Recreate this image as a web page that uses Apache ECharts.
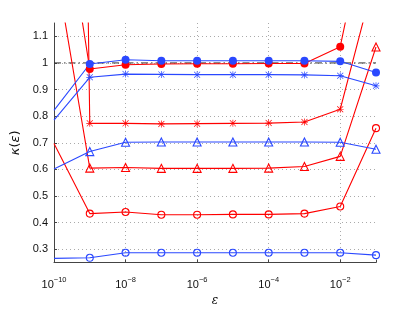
<!DOCTYPE html>
<html><head><meta charset="utf-8">
<script src="https://cdn.jsdelivr.net/npm/echarts@6/dist/echarts.min.js"></script>
<style>html,body{margin:0;padding:0;background:#fff}#c{width:415px;height:312px}</style>
</head><body><div id="c"></div>
<script>
const eps = [1e-10, 1e-9, 1e-8, 1e-7, 1e-6, 1e-5, 1e-4, 1e-3, 1e-2, 1e-1];
const redDot  = [1.83, 0.977, 0.993, 0.996, 0.997, 0.997, 0.998, 0.998, 1.061, 1.70];
const redStar = [10, 0.773, 0.773, 0.771, 0.772, 0.773, 0.774, 0.778, 0.826, 1.34];
const redTri  = [1.40, 0.605, 0.607, 0.604, 0.604, 0.604, 0.605, 0.611, 0.649, 1.06];
const redCirc = [0.697, 0.434, 0.440, 0.430, 0.430, 0.431, 0.431, 0.434, 0.461, 0.755];
const blueDot  = [0.822, 0.996, 1.012, 1.008, 1.008, 1.008, 1.008, 1.008, 1.006, 0.964];
const blueStar = [0.785, 0.946, 0.958, 0.957, 0.956, 0.956, 0.956, 0.955, 0.952, 0.914];
const blueTri  = [0.602, 0.667, 0.702, 0.703, 0.703, 0.703, 0.703, 0.703, 0.702, 0.676];
const blueCirc = [0.266, 0.268, 0.287, 0.287, 0.287, 0.287, 0.287, 0.287, 0.287, 0.278];
const refLine = [1, 1];
const xTicks = [1e-10, 1e-8, 1e-6, 1e-4, 1e-2];
const yTicks = [0.3, 0.4, 0.5, 0.6, 0.7, 0.8, 0.9, 1.0, 1.1];

const RED = '#ff0000', BLUE = '#2a48ff';
const STAR = 'path://M9 0L11 0L11 20L9 20Z M0 9L20 9L20 11L0 11Z M2.1 0.7L19.3 17.9L17.9 19.3L0.7 2.1Z M17.9 0.7L19.3 2.1L2.1 19.3L0.7 17.9Z';

function mk(vals, color, symbol, size, filled) {
  return {
    type: 'line', xAxisIndex: 0,
    data: vals.map((v, i) => i === 0 ? {value: [eps[i], v], symbol: 'none'} : {value: [eps[i], v]}),
    symbol: symbol, symbolSize: size, showAllSymbol: true,
    lineStyle: {color: color, width: 1.1},
    itemStyle: filled ? {color: color} : {color: 'rgba(0,0,0,0)', borderColor: color, borderWidth: 1.1},
    emphasis: {disabled: true}, animation: false, clip: true, z: 3
  };
}

const chart = echarts.init(document.getElementById('c'), null, {renderer: 'canvas'});
const font = 'Liberation Sans, Arial, sans-serif';
const GRID = '#aaa';
const lgMin = Math.log10(eps[0]), lgMax = Math.log10(eps[eps.length - 1]);
chart.setOption({
  animation: false,
  grid: {left: 54, right: 39, top: 23, bottom: 35, containLabel: false},
  xAxis: [{
    type: 'log', logBase: 10, min: eps[0], max: eps[eps.length - 1],
    axisLine: {show: true, onZero: false, lineStyle: {color: '#444', width: 1}},
    axisTick: {show: false},
    splitLine: {show: false},
    axisLabel: {
      customValues: xTicks, margin: 13, color: '#111', verticalAlign: 'top',
      formatter: v => '{b|10}{s|−' + Math.round(-Math.log10(v)) + '}',
      rich: {b: {fontSize: 11, fontFamily: font, color: '#111', lineHeight: 13, padding: [5, 0, 0, 0]},
             s: {fontSize: 7.5, fontFamily: font, color: '#111', lineHeight: 9, verticalAlign: 'top'}}
    },
    name: '{e|ε}', nameLocation: 'middle', nameGap: 29,
    nameTextStyle: {rich: {e: {fontSize: 12, fontStyle: 'italic', fontFamily: 'DejaVu Serif, serif', color: '#111'}}}
  }, {
    // scaffold axis in decades (log10 ε) for the grid lines and ticks every two decades
    type: 'value', position: 'bottom', min: lgMin, max: lgMax, interval: 2,
    axisLine: {show: false},
    axisTick: {show: true, inside: true, length: 3, lineStyle: {color: '#444'}},
    axisLabel: {show: false},
    splitLine: {show: true, showMinLine: true, showMaxLine: false, lineStyle: {color: GRID, type: [1, 3], width: 1}}
  }],
  yAxis: {
    type: 'value', min: 0.25, max: 1.15, splitNumber: 9,
    axisLine: {show: true, lineStyle: {color: '#444', width: 1}},
    axisTick: {show: true, inside: true, length: 3, customValues: yTicks, lineStyle: {color: '#444'}},
    splitLine: {show: true, lineStyle: {color: GRID, type: [1, 3], width: 1}},
    axisLabel: {customValues: yTicks, fontSize: 11, fontFamily: font, color: '#111', margin: 6,
      formatter: v => String(Math.round(v * 10) / 10)},
    name: '{i|κ}{n|(}{i|ε}{n|)}', nameLocation: 'middle', nameGap: 30, nameRotate: 90,
    nameTextStyle: {rich: {
      i: {fontSize: 13, fontStyle: 'italic', fontFamily: 'DejaVu Sans, sans-serif', color: '#111'},
      n: {fontSize: 13, fontFamily: 'DejaVu Sans, sans-serif', color: '#111'}}}
  },
  series: [
    {type: 'line', xAxisIndex: 0, data: [[eps[0], refLine[0]], [eps[eps.length - 1], refLine[1]]], symbol: 'none',
     lineStyle: {color: '#333', width: 1, type: [7, 3, 1.5, 3]}, z: 2, animation: false},
    mk(redCirc, RED, 'circle', 7, false),
    mk(redTri, RED, 'triangle', 8, false),
    mk(redStar, RED, STAR, 7, true),
    mk(redDot, RED, 'circle', 8, true),
    mk(blueCirc, BLUE, 'circle', 7, false),
    mk(blueTri, BLUE, 'triangle', 8, false),
    mk(blueStar, BLUE, STAR, 7, true),
    mk(blueDot, BLUE, 'circle', 8, true)
  ]
});
</script></body></html>
